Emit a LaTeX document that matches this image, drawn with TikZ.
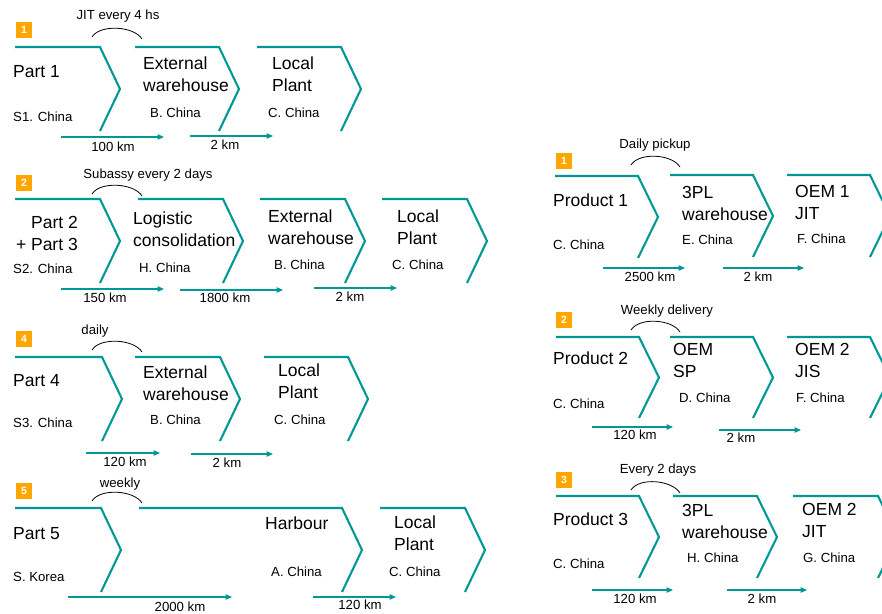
\documentclass[tikz,border=0pt]{standalone}
\usepackage{fontspec}
\setmainfont{Liberation Sans}
\usetikzlibrary{arrows.meta}

\definecolor{flowteal}{RGB}{0,152,150}
\definecolor{badgeorange}{RGB}{255,166,0}

% open chevron: top edge, then the pointed right side
\newcommand\chevshape[4]{\draw[chevline] (#1,#2) -- ++(#3,0) -- ++(20,#4/2) -- ++(-20,#4/2);}
% transport leg: arrow between two named ends plus its distance label
\newcommand\flowleg[7]{%
  \coordinate (#1s) at (#2,#4); \coordinate (#1e) at (#3,#4);
  \draw[flow] (#1s) -- (#1e);
  \node[lab] (#1l) at (#6,#7) {#5};}
% small hop arc marking the delivery rhythm
\newcommand\hoparc[5]{%
  \coordinate (#1a) at (#2,#3); \coordinate (#1b) at (#4,#5);
  \draw[hopline] (#1a) .. controls +(8,-13) and +(-8,-13) .. (#1b);}

\tikzset{
  chevline/.style={draw=flowteal, line width=2.1pt, line join=miter},
  flow/.style={draw=flowteal, line width=1.2pt, -{Triangle[length=6.5pt,width=5.5pt]}},
  hopline/.style={draw=black, line width=0.8pt},
  bigone/.style={font=\fontsize{17.5}{22}\selectfont, inner sep=0pt, anchor=west, text height=12.5pt, text depth=0pt},
  big/.style={font=\fontsize{17.5}{22}\selectfont, inner sep=0pt, anchor=west, align=left},
  small/.style={font=\fontsize{13.2}{15}\selectfont, inner sep=0pt, anchor=west, text height=9.5pt, text depth=0pt},
  lab/.style={font=\fontsize{13.2}{15}\selectfont, inner sep=0pt, text height=9.5pt, text depth=0pt},
  badge/.style={fill=badgeorange, text=white, font=\bfseries\fontsize{10.5}{10.5}\selectfont, minimum size=16pt, inner sep=0pt},
}

\begin{document}
\begin{tikzpicture}[x=1pt,y=-1pt]
\useasboundingbox (0,0) rectangle (882,613);
\clip (0,0) rectangle (882,613);

% ---------------- case 1 ----------------
\node[badge] (bA) at (24,30) {1};
\node[lab] (fA) at (118,15) {JIT every 4 hs};
\hoparc{hA}{92}{37}{142}{39}
\chevshape{15}{47}{85}{84}
\chevshape{135}{47}{84}{84}
\chevshape{257}{47}{84}{84}
\node[bigone] (nA1) at (13,71) {Part 1};
\node[small] (cA1) at (13,117) {S1. China};
\node[big] (nA2) at (143,74) {External\\warehouse};
\node[small] (cA2) at (150,113) {B. China};
\node[big] (nA3) at (272,74) {Local\\Plant};
\node[small] (cA3) at (268,113) {C. China};
\flowleg{lA1}{61}{164}{137}{100 km}{113}{147}
\flowleg{lA2}{190}{273}{136}{2 km}{225}{145}

% ---------------- case 2 ----------------
\node[badge] (bB) at (24,183) {2};
\node[lab] (fB) at (148,174) {Subassy every 2 days};
\hoparc{hB}{92}{194}{142}{196}
\chevshape{15}{199}{85}{84}
\chevshape{138}{199}{85}{84}
\chevshape{260}{199}{85}{84}
\chevshape{382}{199}{85}{84}
\node[big, anchor=east, align=right] (nB1) at (78,233.5) {Part 2\\+ Part 3};
\node[small] (cB1) at (13,269) {S2. China};
\node[big] (nB2) at (133,229.5) {Logistic\\consolidation};
\node[small] (cB2) at (139,268) {H. China};
\node[big] (nB3) at (268,227) {External\\warehouse};
\node[small] (cB3) at (274,265) {B. China};
\node[big] (nB4) at (397,227) {Local\\Plant};
\node[small] (cB4) at (392,265) {C. China};
\flowleg{lB1}{61}{164}{289}{150 km}{105}{298}
\flowleg{lB2}{180}{283}{290}{1800 km}{225}{298}
\flowleg{lB3}{314}{397}{288}{2 km}{350}{297}

% ---------------- case 4 ----------------
\node[badge] (bD) at (24,339) {4};
\node[lab] (fD) at (95,330) {daily};
\hoparc{hD}{92}{350}{142}{352}
\chevshape{15}{357}{87}{84}
\chevshape{135}{357}{85}{84}
\chevshape{264}{357}{84}{84}
\node[bigone] (nD1) at (13,380) {Part 4};
\node[small] (cD1) at (13,423) {S3. China};
\node[big] (nD2) at (143,383) {External\\warehouse};
\node[small] (cD2) at (150,420) {B. China};
\node[big] (nD3) at (278,381) {Local\\Plant};
\node[small] (cD3) at (274,420) {C. China};
\flowleg{lD1}{86}{160}{453}{120 km}{125}{462}
\flowleg{lD2}{191}{273}{454}{2 km}{227}{463}

% ---------------- case 5 ----------------
\node[badge] (bE) at (24,491) {5};
\node[lab] (fE) at (120,483) {weekly};
\hoparc{hE}{92}{501}{142}{503}
\chevshape{15}{508}{86}{84}
\chevshape{139}{508}{203}{84}
\chevshape{380}{508}{85}{84}
\node[bigone] (nE1) at (13,533) {Part 5};
\node[small] (cE1) at (13,577) {S. Korea};
\node[bigone] (nE2) at (265,523) {Harbour};
\node[small] (cE2) at (271,572) {A. China};
\node[big] (nE3) at (394,533.5) {Local\\Plant};
\node[small] (cE3) at (389,572) {C. China};
\flowleg{lE1}{68}{232}{597}{2000 km}{180}{607}
\flowleg{lE2}{313}{396}{597}{120 km}{360}{605}

% ---------------- outbound 1 ----------------
\node[badge] (bR1) at (564,161) {1};
\node[lab] (fR1) at (655,144) {Daily pickup};
\hoparc{hR1}{631}{165}{680}{167}
\chevshape{555}{176}{83}{82}
\chevshape{670}{175}{83}{82}
\chevshape{787}{175}{83}{82}
\node[bigone] (nR11) at (553,200) {Product 1};
\node[small] (cR11) at (553,245) {C. China};
\node[big] (nR12) at (682,203) {3PL\\warehouse};
\node[small] (cR12) at (682,240) {E. China};
\node[big] (nR13) at (795,202.5) {OEM 1\\JIT};
\node[small] (cR13) at (797,239) {F. China};
\flowleg{lR11}{603}{685}{268}{2500 km}{650}{277}
\flowleg{lR12}{723}{804}{268}{2 km}{758}{277}

% ---------------- outbound 2 ----------------
\node[badge] (bR2) at (564,320) {2};
\node[lab] (fR2) at (667,310) {Weekly delivery};
\hoparc{hR2}{631}{330}{680}{332}
\chevshape{556}{337}{83}{81}
\chevshape{670}{337}{83}{81}
\chevshape{787}{337}{83}{81}
\node[bigone] (nR21) at (553,358) {Product 2};
\node[small] (cR21) at (553,404) {C. China};
\node[big] (nR22) at (673,360.5) {OEM\\SP};
\node[small] (cR22) at (679,398) {D. China};
\node[big] (nR23) at (795,360.5) {OEM 2\\JIS};
\node[small] (cR23) at (796,398) {F. China};
\flowleg{lR21}{592}{673}{427}{120 km}{635}{435}
\flowleg{lR22}{719}{801}{430}{2 km}{741}{438}

% ---------------- outbound 3 ----------------
\node[badge] (bR3) at (564,480) {3};
\node[lab] (fR3) at (658,469) {Every 2 days};
\hoparc{hR3}{631}{490}{680}{493}
\chevshape{556}{496}{83}{82}
\chevshape{673}{496}{84}{82}
\chevshape{793}{496}{85}{82}
\node[bigone] (nR31) at (553,519) {Product 3};
\node[small] (cR31) at (553,564) {C. China};
\node[big] (nR32) at (682,521.5) {3PL\\warehouse};
\node[small] (cR32) at (687,558) {H. China};
\node[big] (nR33) at (802,520.5) {OEM 2\\JIT};
\node[small] (cR33) at (803,558) {G. China};
\flowleg{lR31}{592}{673}{590}{120 km}{635}{599}
\flowleg{lR32}{727}{807}{590}{2 km}{762}{599}
\end{tikzpicture}
\end{document}
